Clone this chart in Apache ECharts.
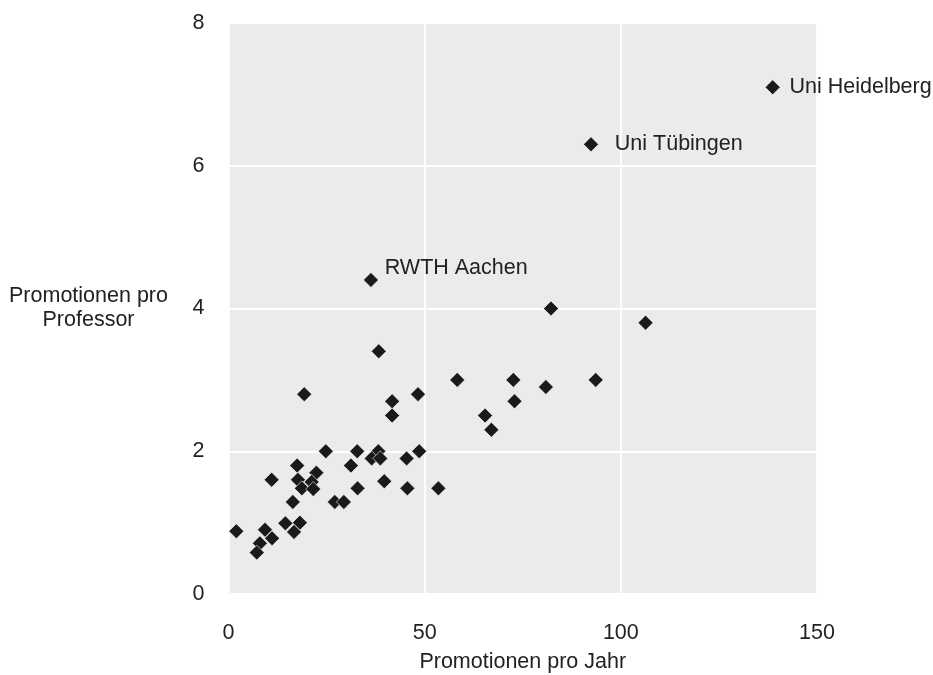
<!DOCTYPE html>
<html>
<head>
<meta charset="utf-8">
<script src="https://cdn.jsdelivr.net/npm/echarts@6/dist/echarts.min.js"></script>
<style>html,body{margin:0;padding:0;background:#fff}#c{width:933px;height:675px}</style>
</head>
<body>
<div id="c"></div>
<script>
// Promotionen pro Jahr (x) and Promotionen pro Professor (y)
const xValues = [138.7, 92.4, 36.3, 82.2, 106.3, 38.3, 58.3, 72.6, 93.6, 80.9,
  48.3, 19.3, 72.9, 41.7, 41.7, 65.4, 67.0, 24.8, 32.8, 38.2,
  48.6, 36.5, 38.7, 45.4, 17.5, 31.2, 22.4, 11.0, 17.7, 21.2,
  39.7, 18.7, 21.6, 32.9, 45.6, 53.5, 16.4, 27.1, 29.4, 14.5,
  18.2, 16.7, 2.0, 9.3, 11.1, 8.0, 7.2];
const yValues = [7.1, 6.3, 4.4, 4.0, 3.8, 3.4, 3.0, 3.0, 3.0, 2.9,
  2.8, 2.8, 2.7, 2.7, 2.5, 2.5, 2.3, 2.0, 2.0, 2.0,
  2.0, 1.9, 1.9, 1.9, 1.8, 1.8, 1.7, 1.6, 1.6, 1.57,
  1.58, 1.48, 1.47, 1.48, 1.48, 1.48, 1.29, 1.29, 1.29, 0.99,
  1.0, 0.87, 0.88, 0.9, 0.78, 0.71, 0.58];
const pointNames = ['Uni Heidelberg', 'Uni Tübingen', 'RWTH Aachen'];
const xTicks = [0, 50, 100, 150];
const yTicks = [0, 2, 4, 6, 8];

const font = 'Liberation Sans, Arial, sans-serif';
const fs = 21.5;
const labelStyles = [
  {distance: 9, offset: [0, 0]},
  {distance: 16, offset: [0, 0]},
  {distance: 6, offset: [0, -12]}
];

const data = xValues.map((x, i) => {
  const item = {value: [x, yValues[i]]};
  if (i < pointNames.length) {
    item.name = pointNames[i];
    item.label = {
      show: true, position: 'right', formatter: pointNames[i],
      distance: labelStyles[i].distance, offset: labelStyles[i].offset,
      fontSize: fs, color: '#222', fontFamily: font
    };
  }
  return item;
});

const chart = echarts.init(document.getElementById('c'), null, {renderer: 'canvas'});
chart.setOption({
  animation: false,
  backgroundColor: '#fff',
  grid: {left: 228.5, right: 116, top: 23, bottom: 81, show: true, backgroundColor: '#EBEBEB', borderWidth: 0,
    containLabel: false, outerBoundsMode: 'none'},
  xAxis: {
    type: 'value', min: xTicks[0], max: xTicks[xTicks.length - 1], interval: 50,
    name: 'Promotionen pro Jahr', nameLocation: 'middle', nameGap: 57,
    nameTextStyle: {fontSize: fs, color: '#222', fontFamily: font},
    axisLine: {show: false}, axisTick: {show: false},
    axisLabel: {fontSize: fs, color: '#222', margin: 28, fontFamily: font},
    splitLine: {show: true, lineStyle: {color: '#fff', width: 1.8}}
  },
  yAxis: {
    type: 'value', min: yTicks[0], max: yTicks[yTicks.length - 1], interval: 2,
    name: 'Promotionen pro\nProfessor', nameLocation: 'middle', nameGap: 140, nameRotate: 0,
    nameTextStyle: {fontSize: fs, color: '#222', fontFamily: font, align: 'center', lineHeight: 24, padding: [5, 0, 0, 0]},
    axisLine: {show: false}, axisTick: {show: false},
    axisLabel: {fontSize: fs, color: '#222', margin: 24, fontFamily: font, padding: [4, 0, 0, 0]},
    splitLine: {show: true, lineStyle: {color: '#fff', width: 1.8}}
  },
  series: [{
    type: 'scatter', symbol: 'diamond', symbolSize: 15,
    itemStyle: {color: '#1a1a1a', borderColor: '#fff', borderWidth: 0.6, opacity: 1},
    data: data
  }]
});
</script>
</body>
</html>
